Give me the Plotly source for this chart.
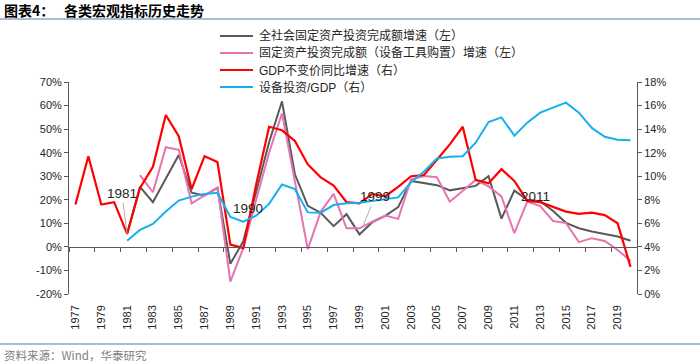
import plotly.graph_objects as go

# ---------------- data ----------------
years = list(range(1977, 2021))

# 全社会固定资产投资完成额增速（左）, %
fai_total = [None, None, None, None,
             5.5, 25.5, 19.0, 29.0, 39.0, 23.0, 21.8, 25.0, -7.2, 2.4,
             23.9, 44.4, 61.8, 30.8, 17.4, 14.5, 8.8, 13.9, 5.3, 10.5,
             13.2, 16.9, 28.0, 27.0, 26.2, 24.0, 24.8, 25.9, 30.0, 12.0,
             23.9, 20.0, 19.4, 15.2, 10.2, 7.9, 6.5, 5.4, 4.4, 2.6]

# 固定资产投资完成额（设备工具购置）增速（左）, %
fai_equip = [None, None, None, None, None,
             30.5, 23.2, 42.3, 41.2, 18.5, 21.8, 25.3, -14.7, -0.5,
             20.0, 40.0, 56.7, 28.0, -1.0, 15.0, 22.5, 7.9, 7.9, 10.7,
             13.3, 11.9, 28.7, 30.1, 29.6, 19.2, 24.0, 28.4, 25.7, 21.4,
             5.8, 19.2, 17.3, 11.0, 10.1, 2.0, 3.7, 2.5, -1.3, -6.0]

# GDP不变价同比增速（右）, %
gdp_growth = [7.6, 11.7, 7.6, 7.8, 5.1, 9.0, 10.8, 15.2, 13.4, 8.9,
              11.7, 11.2, 4.2, 3.9, 9.3, 14.2, 13.9, 13.0, 11.0, 9.9,
              9.2, 7.8, 7.7, 8.5, 8.3, 9.1, 10.0, 10.1, 11.4, 12.7,
              14.2, 9.7, 9.4, 10.6, 9.6, 7.9, 7.8, 7.4, 7.0, 6.8,
              6.9, 6.7, 6.0, 2.3]

# 设备投资/GDP（右）, %
equip_gdp = [None, None, None, None,
             4.53, 5.44, 5.95, 7.0, 7.93, 8.27, 8.5, 8.6, 6.55, 6.15,
             6.65, 7.65, 9.3, 8.9, 6.93, 6.9, 7.55, 7.7, 7.75, 7.9,
             8.0, 8.2, 9.5, 10.4, 11.5, 11.65, 11.7, 12.85, 14.6, 15.0,
             13.45, 14.55, 15.4, 15.8, 16.25, 15.4, 14.1, 13.35, 13.1, 13.05]

series_names = ["全社会固定资产投资完成额增速（左）",
                "固定资产投资完成额（设备工具购置）增速（左）",
                "GDP不变价同比增速（右）",
                "设备投资/GDP（右）"]
series_colors = ["#595959", "#E674B0", "#FF0000", "#14B2EC"]

xtick_years = list(range(1977, 2020, 2))
left_ticks = list(range(-20, 71, 10))
right_ticks = list(range(0, 19, 2))

point_labels = ["1981", "1990", "1999", "2011"]

# ---------------- figure ----------------
W, H = 700, 364
L, R, T, B = 69, 637, 82, 294


def pxx(xp):
    return (xp - L) / (R - L)


def pxy(yp):
    return (B - yp) / (B - T)


fig = go.Figure()
fig.add_trace(go.Scatter(x=years, y=fai_total, name=series_names[0], mode="lines",
                         line=dict(color=series_colors[0], width=2), yaxis="y"))
fig.add_trace(go.Scatter(x=years, y=fai_equip, name=series_names[1], mode="lines",
                         line=dict(color=series_colors[1], width=2), yaxis="y"))
fig.add_trace(go.Scatter(x=years, y=gdp_growth, name=series_names[2], mode="lines",
                         line=dict(color=series_colors[2], width=2.2), yaxis="y2"))
fig.add_trace(go.Scatter(x=years, y=equip_gdp, name=series_names[3], mode="lines",
                         line=dict(color=series_colors[3], width=2), yaxis="y2"))
# invisible helper trace so the zero-crossing category axis is drawn
fig.add_trace(go.Scatter(x=[years[0], years[-1]], y=[0, 0], xaxis="x2", yaxis="y",
                         mode="lines", line=dict(width=0), hoverinfo="skip",
                         showlegend=False))

axis_color = "#595959"
tick_font = dict(family="Liberation Sans, Arial, sans-serif", size=11, color="#262626")

fig.update_layout(
    width=W, height=H,
    margin=dict(l=L, r=W - R, t=T, b=H - B, pad=0),
    paper_bgcolor="white", plot_bgcolor="white",
    showlegend=False,
    xaxis=dict(range=[1976.5, 2020.5], tickvals=xtick_years,
               ticktext=[str(y) for y in xtick_years], tickangle=-90,
               showline=False, showgrid=False, zeroline=False, ticks="",
               ticklabelstandoff=8, tickfont=tick_font),
    xaxis2=dict(range=[1976.5, 2020.5], overlaying="x", anchor="free",
                position=20 / 90, showline=True, linecolor=axis_color, linewidth=1,
                ticks="outside", ticklen=4, tickcolor=axis_color,
                tickvals=[1976.5 + 2 * k for k in range(23)],
                showticklabels=False, showgrid=False, zeroline=False),
    yaxis=dict(range=[-20, 70], tickvals=left_ticks,
               ticktext=[f"{v}%" for v in left_ticks],
               showline=True, linecolor=axis_color, linewidth=1,
               ticks="outside", ticklen=4, tickcolor=axis_color,
               showgrid=False, zeroline=False, tickfont=tick_font),
    yaxis2=dict(range=[0, 18], tickvals=right_ticks,
                ticktext=[f"{v}%" for v in right_ticks],
                overlaying="y", side="right",
                showline=True, linecolor=axis_color, linewidth=1,
                ticks="outside", ticklen=4, tickcolor=axis_color,
                showgrid=False, zeroline=False, tickfont=tick_font),
)

shapes = []
annotations = []

# title + rules
rule_color = "#A9BBD5"
annotations.append(dict(text="<b>图表4：</b>", x=pxx(2), y=pxy(10), xref="paper", yref="paper",
                        xanchor="left", yanchor="middle", showarrow=False,
                        font=dict(family="Noto Sans CJK SC", size=14, color="#000000")))
annotations.append(dict(text="<b>各类宏观指标历史走势</b>", x=pxx(62), y=pxy(10), xref="paper",
                        yref="paper", xanchor="left", yanchor="middle", showarrow=False,
                        font=dict(family="Noto Sans CJK SC", size=14, color="#000000")))
shapes.append(dict(type="line", xref="paper", yref="paper", x0=pxx(0), x1=pxx(W),
                   y0=pxy(19), y1=pxy(19), line=dict(color=rule_color, width=2)))
shapes.append(dict(type="line", xref="paper", yref="paper", x0=pxx(0), x1=pxx(W),
                   y0=pxy(344), y1=pxy(344), line=dict(color=rule_color, width=2)))
annotations.append(dict(text="资料来源：Wind，华泰研究", x=pxx(2), y=pxy(355), xref="paper",
                        yref="paper", xanchor="left", yanchor="middle", showarrow=False,
                        font=dict(family="Noto Sans CJK SC", size=11.5, color="#808080")))

# manual legend
legend_rows = [36, 53, 70, 87]
for name, color, row in zip(series_names, series_colors, legend_rows):
    shapes.append(dict(type="line", xref="paper", yref="paper", x0=pxx(220), x1=pxx(253),
                       y0=pxy(row), y1=pxy(row), line=dict(color=color, width=2)))
    annotations.append(dict(text=name, x=pxx(257), y=pxy(row), xref="paper", yref="paper",
                            xanchor="left", yanchor="middle", showarrow=False,
                            font=dict(family="Liberation Sans, Noto Sans CJK SC", size=12,
                                      color="#262626")))

# point labels on the total FAI series
label_font = dict(family="Liberation Sans, Arial, sans-serif", size=13.5, color="#262626")
annotations.append(dict(text=point_labels[0], x=1981, y=fai_total[1981 - 1977], xref="x", yref="y",
                        ax=1980.6, ay=22.5, axref="x", ayref="y", showarrow=True,
                        arrowhead=0, arrowwidth=1, arrowcolor="#B0B0B0", standoff=0,
                        font=label_font))
annotations.append(dict(text=point_labels[1], x=1990.4, y=16.3, xref="x", yref="y",
                        showarrow=False, font=label_font))
annotations.append(dict(text=point_labels[2], x=1999, y=fai_total[1999 - 1977], xref="x", yref="y",
                        ax=2000.2, ay=21.2, axref="x", ayref="y", showarrow=True,
                        arrowhead=0, arrowwidth=1, arrowcolor="#B0B0B0", standoff=9,
                        font=label_font))
annotations.append(dict(text=point_labels[3], x=2012.65, y=21.2, xref="x", yref="y",
                        showarrow=False, font=label_font))

fig.update_layout(shapes=shapes, annotations=annotations)
fig.write_html("out.html",
               config={"displayModeBar": False},
               post_script="document.body.style.margin='0';document.body.style.overflow='hidden';")
